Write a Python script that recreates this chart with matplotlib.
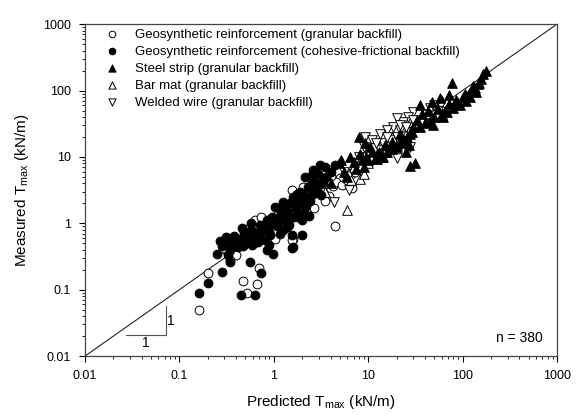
"""Measured vs predicted Tmax for reinforced soil walls (log-log scatter)."""

import matplotlib

matplotlib.use("Agg")

import matplotlib.pyplot as plt
from matplotlib.ticker import LogLocator, NullFormatter, FixedLocator, FixedFormatter

plt.rcParams["font.family"] = ["Liberation Sans", "DejaVu Sans"]

# Geosynthetic reinforcement (granular backfill) - open circles
geo_gran_pred = [0.16, 0.20, 0.31, 0.40, 0.52, 0.47, 0.66, 0.69, 0.29, 0.63, 0.74, 1.03, 1.61,
                 1.26, 1.55, 2.05, 2.7, 2.85, 0.56, 0.74, 4.4, 1.56, 3.9, 5.0, 6.8, 5.8, 3.1,
                 3.3, 3.8, 4.2, 4.6, 5.3, 6.0, 6.5, 7.2, 4.0, 3.5, 2.4, 2.2, 1.8, 1.3, 1.1,
                 0.9, 0.45, 0.38, 0.34]
geo_gran_meas = [0.049, 0.18, 0.40, 0.33, 0.090, 0.136, 0.121, 0.21, 0.42, 1.12, 1.25, 0.59, 0.59,
                 2.1, 3.2, 3.5, 1.7, 3.8, 0.89, 0.79, 0.90, 0.56, 6.3, 4.8, 3.4, 5.9, 4.5,
                 3.0, 2.6, 3.6, 4.2, 3.8, 4.5, 5.5, 6.0, 5.2, 2.2, 2.6, 1.5, 1.9, 1.0, 1.4,
                 1.0, 0.55, 0.60, 0.28]

# Geosynthetic reinforcement (cohesive-frictional backfill) - filled circles
geo_coh_pred = [0.16, 0.20, 0.28, 0.34, 0.32, 0.45, 0.64, 0.74, 0.56, 0.84, 0.97, 0.59, 1.56,
                0.33, 0.34, 0.40, 0.46, 0.58, 0.71, 0.91, 0.84, 0.99, 1.12, 1.37, 1.55, 1.98,
                1.59, 1.98, 1.82, 1.03, 1.48, 1.61, 1.82, 1.9, 2.23, 2.52, 3.2, 2.52, 2.96,
                3.5, 3.35, 0.42, 0.50, 0.66, 0.81, 2.62, 3.1, 2.14, 2.52,
                0.30, 0.35, 0.38, 0.44, 0.48, 0.52, 0.36, 0.42, 0.55, 0.60, 0.65, 0.70, 0.75,
                0.80, 0.88, 0.92, 1.08, 1.20, 1.30, 1.40, 1.50, 1.70, 1.80, 2.00, 2.20, 2.40,
                2.60, 2.80, 3.00, 3.30, 3.60, 4.00, 4.40, 1.15, 1.25, 1.35, 1.60, 1.75, 2.05,
                2.30, 2.70, 0.62, 0.68, 0.53, 0.57, 0.48, 0.25, 0.28, 0.27, 0.31, 0.47, 0.72,
                0.95, 1.05, 1.25, 1.45, 1.65, 2.10, 2.35, 0.90, 1.15]
geo_coh_meas = [0.090, 0.127, 0.184, 0.26, 0.59, 0.082, 0.084, 0.176, 0.26, 0.39, 0.35, 0.47, 0.43,
                0.33, 0.39, 0.59, 0.84, 1.0, 0.70, 0.66, 1.12, 1.0, 1.19, 0.89, 0.66, 0.66,
                0.44, 1.12, 1.25, 1.77, 2.0, 2.5, 2.24, 3.0, 2.5, 3.16, 2.66, 5.3, 5.6,
                7.1, 4.5, 0.44, 0.53, 0.66, 0.56, 6.3, 7.5, 5.0, 4.0,
                0.52, 0.48, 0.64, 0.58, 0.66, 0.60, 0.45, 0.52, 0.55, 0.64, 0.72, 0.60, 0.78,
                0.88, 0.74, 0.95, 0.90, 1.30, 1.10, 1.50, 1.20, 1.70, 1.45, 2.00, 1.80, 2.20,
                2.80, 3.30, 3.80, 4.20, 5.00, 6.00, 7.50, 1.60, 2.00, 1.75, 2.20, 2.80, 2.70,
                3.50, 4.20, 0.50, 0.52, 0.70, 0.80, 0.75, 0.35, 0.45, 0.55, 0.62, 0.45, 0.95,
                1.25, 1.05, 0.80, 0.95, 1.25, 1.45, 1.30, 0.47, 0.70]

# Steel strip (granular backfill) - filled triangles
steel_pred = [175, 165, 155, 145, 135, 125, 140, 115, 110, 100, 95, 86, 80, 72, 71, 77, 57, 65,
              60, 55, 50, 47, 43, 35, 37, 33, 35, 49, 45, 40, 30, 28, 26, 29, 24, 22, 20, 18,
              27, 25, 16, 14, 13, 12, 10.4, 9.3, 8.0, 8.2, 9.6, 12.3, 14.4, 6.4, 7.0, 4.9, 5.1,
              27.6, 31, 11, 15, 18, 22, 4.0, 3.0, 2.2, 6.0, 7.5, 9.0, 5.5, 8.5, 10, 62, 68, 90,
              105, 120, 130, 150]
steel_meas = [195, 175, 150, 125, 110, 100, 95, 85, 70, 80, 60, 72, 55, 62, 85, 128, 76, 50,
              45, 52, 40, 68, 50, 60, 45, 36, 28, 30, 35, 32, 28, 22, 20, 24, 18, 16, 14, 13,
              15, 12, 12, 10, 12, 10, 14, 16, 20, 11, 10, 9.3, 10, 10, 8.4, 8.2, 8.9,
              7.2, 8.0, 12, 15, 17, 22, 4.0, 3.2, 2.4, 5.0, 6.5, 7.0, 6.0, 9.0, 9.0, 40, 48, 65,
              90, 80, 115, 130]

# Bar mat (granular backfill) - open up-triangles
barmat_pred = [5.9, 8.2, 10, 12, 15, 18, 20, 25, 30, 40, 55, 6.5, 9.0, 7.0, 3.5, 60, 45, 68]
barmat_meas = [1.6, 4.7, 8.0, 14, 12, 20, 15, 22, 33, 38, 60, 4.5, 5.5, 7.0, 3.0, 70, 45, 67]

# Welded wire (granular backfill) - open down-triangles
wire_pred = [30, 26.5, 23.5, 20, 18.5, 21.7, 15.7, 13.3, 17, 20, 14.4, 24.5, 27.6, 9.2, 10.9,
             11.8, 13.3, 15.7, 20, 6.2, 4.3, 8, 10, 12, 16, 22, 35, 40, 45, 50, 7, 5.5, 38, 9,
             25, 30]
wire_meas = [48, 40, 34, 38, 28, 25, 25, 22.5, 18, 20, 16, 17, 14.2, 20, 18, 13.4, 12.6, 12.6,
             9.5, 3.2, 2.1, 10, 11, 16, 20, 30, 35, 45, 55, 60, 8, 6, 32, 14, 28, 36]

series_labels = [
    "Geosynthetic reinforcement (granular backfill)",
    "Geosynthetic reinforcement (cohesive-frictional backfill)",
    "Steel strip (granular backfill)",
    "Bar mat (granular backfill)",
    "Welded wire (granular backfill)",
]
decade_ticks = [0.01, 0.1, 1, 10, 100, 1000]
decade_labels = ["0.01", "0.1", "1", "10", "100", "1000"]
n_label = "n = 380"


def style_log_axis(axis):
    axis.set_major_locator(FixedLocator(decade_ticks))
    axis.set_major_formatter(FixedFormatter(decade_labels))
    axis.set_minor_locator(LogLocator(base=10, subs=range(2, 10), numticks=20))
    axis.set_minor_formatter(NullFormatter())


def main() -> None:
    fig = plt.figure(figsize=(5.82, 4.16), dpi=100)
    ax = fig.add_axes([0.146, 0.144, 0.811, 0.798])

    ax.plot([0.01, 1000], [0.01, 1000], color="#222222", lw=0.8, zorder=1)

    cs = 40
    ts = 48
    lw = 0.7
    ax.scatter(geo_gran_pred, geo_gran_meas, s=cs, marker="o", facecolor="white",
               edgecolor="black", linewidth=lw, label=series_labels[0], zorder=2)
    ax.scatter(geo_coh_pred, geo_coh_meas, s=cs, marker="o", facecolor="black",
               edgecolor="black", linewidth=lw, label=series_labels[1], zorder=3)
    ax.scatter(steel_pred, steel_meas, s=ts, marker="^", facecolor="black",
               edgecolor="black", linewidth=lw, label=series_labels[2], zorder=3)
    ax.scatter(barmat_pred, barmat_meas, s=ts, marker="^", facecolor="white",
               edgecolor="black", linewidth=lw, label=series_labels[3], zorder=2)
    ax.scatter(wire_pred, wire_meas, s=ts, marker="v", facecolor="white",
               edgecolor="black", linewidth=lw, label=series_labels[4], zorder=2)

    # 1:1 slope marker
    ax.plot([0.027, 0.072, 0.072], [0.021, 0.021, 0.056], color="#555555", lw=0.8)
    ax.text(0.044, 0.0155, "1", ha="center", va="center", fontsize=10)
    ax.text(0.082, 0.034, "1", ha="center", va="center", fontsize=10)
    ax.text(0.97, 0.055, n_label, transform=ax.transAxes, ha="right", va="center", fontsize=10)

    ax.set_xscale("log")
    ax.set_yscale("log")
    ax.set_xlim(0.01, 1000)
    ax.set_ylim(0.01, 1000)
    style_log_axis(ax.xaxis)
    style_log_axis(ax.yaxis)
    ax.tick_params(which="major", direction="out", length=4, width=0.8, pad=6, labelsize=9)
    ax.tick_params(which="minor", direction="out", length=2, width=0.6)
    for spine in ax.spines.values():
        spine.set_color("#444444")
        spine.set_linewidth(0.9)

    ax.set_xlabel("Predicted T$_{\\mathregular{max}}$ (kN/m)", fontsize=11, labelpad=8)
    ax.set_ylabel("Measured T$_{\\mathregular{max}}$ (kN/m)", fontsize=11, labelpad=9)

    ax.legend(loc="upper left", bbox_to_anchor=(0.044, 0.987), frameon=False, fontsize=9.5,
              handletextpad=1.2, labelspacing=0.36, borderaxespad=0, borderpad=0,
              markerscale=0.75, handlelength=1.0)

    fig.savefig("out.png", dpi=100)
    plt.close(fig)


if __name__ == "__main__":
    main()
